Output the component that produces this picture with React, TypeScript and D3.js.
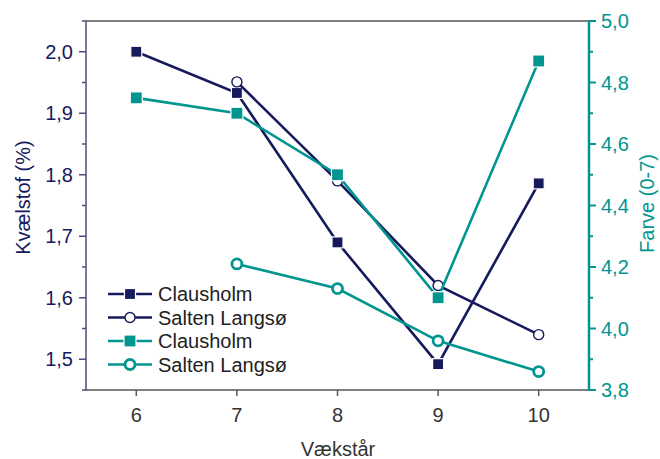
import React from "react";
import * as d3 from "d3";

// Vækstår (growth years)
const years = [6, 7, 8, 9, 10];

// Kvælstof (%) — left axis
const nClausholm: (number | null)[] = [2.0, 1.933, 1.69, 1.492, 1.786];
const nSalten: (number | null)[] = [null, 1.951, 1.79, 1.62, 1.54];

// Farve (0-7) — right axis
const fClausholm: (number | null)[] = [4.75, 4.7, 4.5, 4.1, 4.87];
const fSalten: (number | null)[] = [null, 4.21, 4.13, 3.96, 3.86];

const leftTicks = [1.5, 1.6, 1.7, 1.8, 1.9, 2.0];
const leftMinor = [1.45, 1.55, 1.65, 1.75, 1.85, 1.95, 2.05];
const rightTicks = [3.8, 4.0, 4.2, 4.4, 4.6, 4.8, 5.0];
const rightMinor = [3.9, 4.1, 4.3, 4.5, 4.7, 4.9];

const legendLabels = ["Clausholm", "Salten Langsø", "Clausholm", "Salten Langsø"];

const NAVY = "#161a5c";
const TEAL = "#00958f";
const FONT = "'Liberation Sans', Arial, Helvetica, sans-serif";

const W = 660;
const H = 459;
const M = { left: 86, right: 589, top: 21, bottom: 390 };

const fmt = (v: number) => v.toFixed(1).replace(".", ",");

export default function App() {
  const x = d3.scaleLinear().domain([5.5, 10.5]).range([M.left, M.right]);
  const yL = d3.scaleLinear().domain([1.45, 2.05]).range([M.bottom, M.top]);
  const yR = d3.scaleLinear().domain([3.8, 5.0]).range([M.bottom, M.top]);

  const lineFor = (vals: (number | null)[], y: d3.ScaleLinear<number, number>) => {
    const pts = years
      .map((yr, i) => ({ yr, v: vals[i] }))
      .filter((d) => d.v !== null) as { yr: number; v: number }[];
    const gen = d3
      .line<{ yr: number; v: number }>()
      .x((d) => x(d.yr))
      .y((d) => y(d.v));
    return { path: gen(pts) as string, pts };
  };

  const series = [
    { vals: nClausholm, y: yL, color: NAVY, marker: "square", sw: 2.6 },
    { vals: nSalten, y: yL, color: NAVY, marker: "circleThin", sw: 2.6 },
    { vals: fClausholm, y: yR, color: TEAL, marker: "squareBig", sw: 2.6 },
    { vals: fSalten, y: yR, color: TEAL, marker: "circleThick", sw: 2.6 },
  ];

  const drawMarker = (kind: string, cx: number, cy: number, color: string, key: string) => {
    if (kind === "square") {
      return <rect key={key} x={cx - 5.5} y={cy - 5.5} width={11} height={11} fill={color} stroke="#fff" strokeWidth={1.2} />;
    }
    if (kind === "squareBig") {
      return <rect key={key} x={cx - 6} y={cy - 6} width={12} height={12} fill={color} stroke="#fff" strokeWidth={1.2} />;
    }
    if (kind === "circleThin") {
      return <circle key={key} cx={cx} cy={cy} r={5} fill="#fff" stroke={color} strokeWidth={1.4} />;
    }
    return <circle key={key} cx={cx} cy={cy} r={5} fill="#fff" stroke={color} strokeWidth={2.8} />;
  };

  const legendY0 = 294;
  const legendDy = 23.5;

  return (
    <svg width={W} height={H} style={{ position: "absolute", left: 0, top: 0, background: "#fff" }} fontFamily={FONT}>
      {/* frame: top and bottom */}
      <line x1={M.left} x2={M.right} y1={M.top} y2={M.top} stroke="#555" strokeWidth={1.5} />
      <line x1={M.left - 1} x2={M.right} y1={M.bottom} y2={M.bottom} stroke="#555" strokeWidth={1.5} />

      {/* left axis */}
      <line x1={M.left} x2={M.left} y1={M.top} y2={M.bottom} stroke="#4a4d7c" strokeWidth={1.5} />
      {leftTicks.map((t) => (
        <g key={"lt" + t}>
          <line x1={M.left - 7} x2={M.left} y1={yL(t)} y2={yL(t)} stroke="#4a4d7c" strokeWidth={1.5} />
          <text x={M.left - 13} y={yL(t)} dy="0.35em" textAnchor="end" fontSize={20} fill={NAVY}>
            {fmt(t)}
          </text>
        </g>
      ))}
      {leftMinor.map((t) => (
        <line key={"lm" + t} x1={M.left - 4} x2={M.left} y1={yL(t)} y2={yL(t)} stroke="#4a4d7c" strokeWidth={1.5} />
      ))}

      {/* right axis */}
      <line x1={M.right} x2={M.right} y1={M.top} y2={M.bottom + 0.75} stroke={TEAL} strokeWidth={2.5} />
      {rightTicks.map((t) => (
        <g key={"rt" + t}>
          <line x1={M.right} x2={M.right + 7} y1={yR(t)} y2={yR(t)} stroke={TEAL} strokeWidth={2} />
          <text x={M.right + 12} y={yR(t)} dy="0.35em" textAnchor="start" fontSize={20} fill={TEAL}>
            {fmt(t)}
          </text>
        </g>
      ))}
      {rightMinor.map((t) => (
        <line key={"rm" + t} x1={M.right} x2={M.right + 4} y1={yR(t)} y2={yR(t)} stroke={TEAL} strokeWidth={2} />
      ))}

      {/* bottom axis */}
      {years.map((t) => (
        <g key={"xt" + t}>
          <line x1={x(t)} x2={x(t)} y1={M.bottom} y2={M.bottom + 6} stroke="#555" strokeWidth={1.5} />
          <text x={x(t)} y={422} textAnchor="middle" fontSize={20} fill="#333">
            {t}
          </text>
        </g>
      ))}

      {/* axis titles */}
      <text x={338} y={456} textAnchor="middle" fontSize={20} fill="#333">
        Vækstår
      </text>
      <text
        transform={`translate(30, ${(M.top + M.bottom) / 2 - 8}) rotate(-90)`}
        textAnchor="middle"
        fontSize={20}
        fill={NAVY}
      >
        Kvælstof (%)
      </text>
      <text
        transform={`translate(640, ${(M.top + M.bottom) / 2 - 2}) rotate(-90)`}
        textAnchor="middle"
        fontSize={20}
        fill={TEAL}
        dominantBaseline="hanging"
      >
        Farve (0-7)
      </text>

      {/* series */}
      {series.map((s, i) => {
        const { path, pts } = lineFor(s.vals, s.y);
        return (
          <g key={"s" + i}>
            <path d={path} fill="none" stroke={s.color} strokeWidth={s.sw} />
            {pts.map((p, j) => drawMarker(s.marker, x(p.yr), s.y(p.v), s.color, `m${i}-${j}`))}
          </g>
        );
      })}

      {/* legend */}
      {series.map((s, i) => {
        const ly = legendY0 + i * legendDy;
        return (
          <g key={"lg" + i}>
            <line x1={108} x2={152} y1={ly} y2={ly} stroke={s.color} strokeWidth={s.sw} />
            {drawMarker(s.marker, 130, ly, s.color, "lm" + i)}
            <text x={158} y={ly} dy="0.35em" fontSize={20} fill="#222">
              {legendLabels[i]}
            </text>
          </g>
        );
      })}
    </svg>
  );
}
